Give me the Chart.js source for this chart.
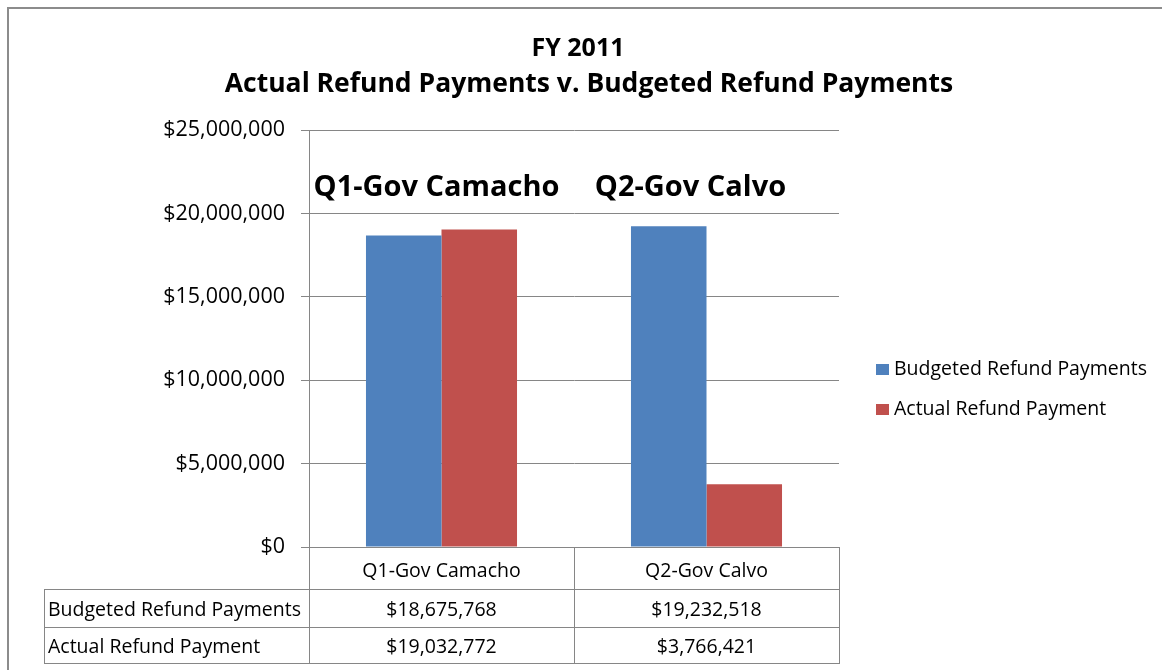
<!DOCTYPE html>
<html><head><meta charset="utf-8">
<script src="https://cdn.jsdelivr.net/npm/chart.js@4.4.1/dist/chart.umd.min.js"></script>
<style>html,body{margin:0;padding:0;background:#fff;}#wrap{width:1162px;height:670px;position:relative;}</style>
</head><body><div id="wrap"><canvas id="c" width="1162" height="670"></canvas></div>
<script>
const categories = ['Q1-Gov Camacho', 'Q2-Gov Calvo'];
const seriesNames = ['Budgeted Refund Payments', 'Actual Refund Payment'];
const budgeted = [18675768, 19232518];
const actual = [19032772, 3766421];
const yTicks = [0, 5000000, 10000000, 15000000, 20000000, 25000000];
const titleLines = ['FY 2011', 'Actual Refund Payments v. Budgeted Refund Payments'];
const annotations = ['Q1-Gov Camacho', 'Q2-Gov Calvo'];
const seriesColors = ['#4F81BD', '#C0504D'];

const FONT = '"Open Sans", "DejaVu Sans", sans-serif';
const money = v => '$' + Math.round(v).toLocaleString('en-US');

const extras = {
  id: 'extras',
  afterDraw(chart) {
    const ctx = chart.ctx, ca = chart.chartArea, xs = chart.scales.x;
    ctx.save();
    // outer frame
    ctx.strokeStyle = '#8c8c8c'; ctx.lineWidth = 2;
    ctx.beginPath(); ctx.moveTo(8, 670); ctx.lineTo(8, 8); ctx.lineTo(1162, 8); ctx.stroke();

    // titles
    ctx.fillStyle = '#000'; ctx.textAlign = 'center'; ctx.textBaseline = 'alphabetic';
    ctx.font = 'bold 25px ' + FONT;
    ctx.fillText(titleLines[0], 578, 56);
    ctx.font = 'bold 26.5px ' + FONT;
    ctx.fillText(titleLines[1], 589, 92);

    // annotations
    ctx.font = 'bold 29px ' + FONT;
    const annOff = [-5, -16];
    annotations.forEach((t, i) => ctx.fillText(t, xs.getPixelForValue(i) + annOff[i], 196));

    // data table
    const rows = [ca.bottom, ca.bottom + 42, ca.bottom + 80, ca.bottom + 116];
    const leftX = 44;
    const midX = (xs.getPixelForValue(0) + xs.getPixelForValue(1)) / 2;
    ctx.strokeStyle = '#868686'; ctx.lineWidth = 1;
    ctx.beginPath();
    [ca.left, midX, ca.right].forEach(x => { const px = Math.round(x) + 0.5; ctx.moveTo(px, rows[0]); ctx.lineTo(px, rows[3]); });
    ctx.moveTo(leftX + 0.5, rows[1]); ctx.lineTo(leftX + 0.5, rows[3]);
    for (let r = 1; r <= 3; r++) { const py = Math.round(rows[r]) + 0.5; ctx.moveTo(leftX, py); ctx.lineTo(ca.right + 1, py); }
    ctx.stroke();

    ctx.fillStyle = '#000'; ctx.textBaseline = 'middle';
    ctx.font = '19.5px ' + FONT;
    ctx.textAlign = 'center';
    categories.forEach((c, i) => ctx.fillText(c, xs.getPixelForValue(i), (rows[0] + rows[1]) / 2 + 3));
    const series = [budgeted, actual];
    series.forEach((vals, r) => {
      const cy = (rows[r + 1] + rows[r + 2]) / 2 + 2;
      ctx.textAlign = 'left';
      ctx.fillText(seriesNames[r], leftX + 4, cy);
      ctx.textAlign = 'center';
      vals.forEach((v, i) => ctx.fillText(money(v), xs.getPixelForValue(i), cy));
    });

    // legend
    const legY = [369, 409];
    seriesNames.forEach((n, i) => {
      ctx.fillStyle = seriesColors[i];
      ctx.fillRect(876, legY[i] - 5, 13, 11);
      ctx.fillStyle = '#000'; ctx.textAlign = 'left';
      ctx.fillText(n, 894, legY[i]);
    });
    ctx.restore();
  }
};

new Chart(document.getElementById('c'), {
  type: 'bar',
  data: {
    labels: categories,
    datasets: [
      { label: seriesNames[0], data: budgeted, backgroundColor: seriesColors[0], borderWidth: 0 },
      { label: seriesNames[1], data: actual, backgroundColor: seriesColors[1], borderWidth: 0 }
    ]
  },
  options: {
    responsive: false,
    animation: false,
    categoryPercentage: 0.57,
    barPercentage: 1.0,
    layout: { padding: { top: 130, right: 323, bottom: 123, left: 0 } },
    plugins: { legend: { display: false }, title: { display: false }, tooltip: { enabled: false } },
    scales: {
      x: { display: false },
      y: {
        min: 0, max: 25000000,
        afterBuildTicks: s => { s.ticks = yTicks.map(v => ({ value: v })); },
        afterFit: s => { s.width = 309; },
        ticks: { callback: v => money(v), color: '#000', padding: 16, font: { family: FONT, size: 21.5 } },
        grid: { color: '#868686', lineWidth: 1, tickLength: 8, drawTicks: true },
        border: { display: true, color: '#868686', width: 1 }
      }
    }
  },
  plugins: [extras]
});
</script>
</body></html>
